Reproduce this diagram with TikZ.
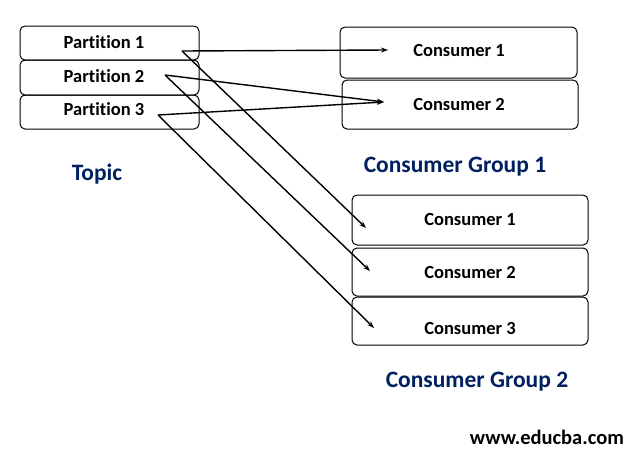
\documentclass[tikz,border=0pt]{standalone}
\usepackage{fontspec}
\setmainfont{Carlito}[Ligatures=NoCommon]
\usetikzlibrary{arrows.meta}
\definecolor{navy}{RGB}{0,32,96}
\begin{document}
\begin{tikzpicture}[x=1pt,y=-1pt,
  box/.style={draw=black,line width=1pt,rounded corners=5pt,inner sep=0pt},
  lbl/.style={font=\bfseries\fontsize{18.5}{22}\selectfont},
  title/.style={font=\bfseries\fontsize{23.5}{28}\selectfont,text=navy},
  conn/.style={draw=black,line width=1.4pt,-{Stealth[length=7pt,width=5pt]}}]
\useasboundingbox (0,0) rectangle (633,453);
% topic partitions
\node[box,minimum width=179pt,minimum height=34pt] (p1) at (109.5,43) {};
\node[box,minimum width=179pt,minimum height=35pt] (p2) at (109.5,77.5) {};
\node[box,minimum width=179pt,minimum height=34pt] (p3) at (109.5,112) {};
\node[lbl] (p1t) at (104,42.5) {Partition 1};
\node[lbl] (p2t) at (104,76.5) {Partition 2};
\node[lbl] (p3t) at (104,109.5) {Partition 3};
% group 1
\node[box,minimum width=237pt,minimum height=51pt] (a1) at (458.5,52.5) {};
\node[box,minimum width=236pt,minimum height=49pt] (a2) at (460,104.5) {};
\node[lbl] (a1t) at (459,50.5) {Consumer 1};
\node[lbl] (a2t) at (459,104.5) {Consumer 2};
% group 2
\node[box,minimum width=236pt,minimum height=50pt] (b1) at (470,220) {};
\node[box,minimum width=236pt,minimum height=48pt] (b2) at (470,272) {};
\node[box,minimum width=236pt,minimum height=48pt] (b3) at (470,321) {};
\node[lbl] (b1t) at (470,219) {Consumer 1};
\node[lbl] (b2t) at (470,272) {Consumer 2};
\node[lbl] (b3t) at (470,328) {Consumer 3};
% titles
\node[title] (topic) at (97,174) {Topic};
\node[title] (g1) at (455,167) {Consumer Group 1};
\node[title] (g2) at (477,382) {Consumer Group 2};
\node[font=\bfseries\fontsize{20.5}{24}\selectfont] (web) at (547,437) {www.educba.com};
% connector end points
\coordinate (s1) at (182,51);
\coordinate (s2) at (165,75);
\coordinate (s3) at (158,115);
\coordinate (e1) at (388,50);
\coordinate (e2) at (384,102);
\coordinate (f1) at (366,228);
\coordinate (f2) at (370,271);
\coordinate (f3) at (374,328);
\draw[conn] (s1) -- (e1);
\draw[conn] (s1) -- (f1);
\draw[conn] (s2) -- (e2);
\draw[conn] (s2) -- (f2);
\draw[conn] (s3) -- (e2);
\draw[conn] (s3) -- (f3);
\end{tikzpicture}
\end{document}
